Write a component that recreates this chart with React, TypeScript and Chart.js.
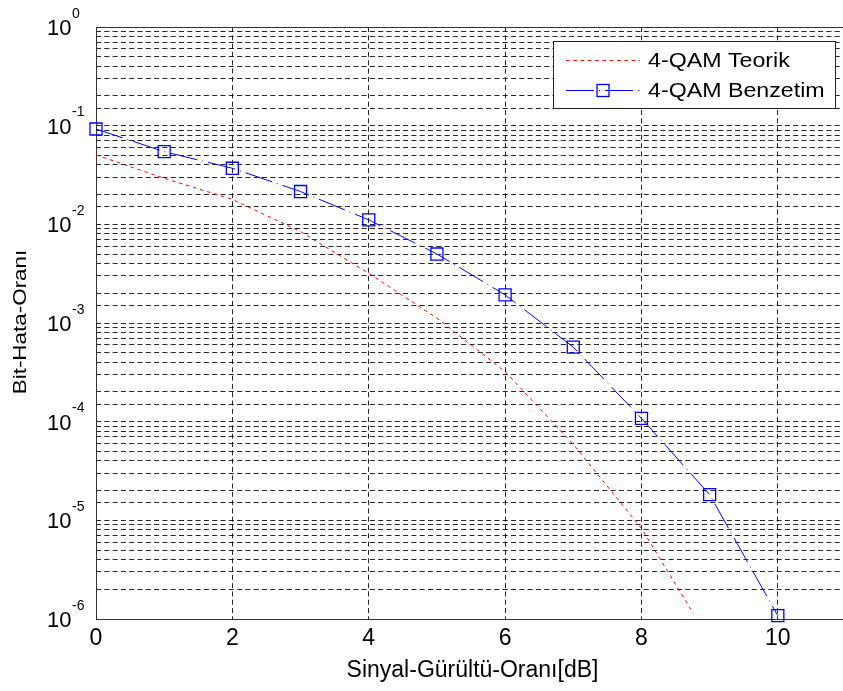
import React, { useEffect, useRef } from 'react';
import { Chart, registerables } from 'chart.js';

Chart.register(...registerables);

// ---- data ----
const simSnrDb = [0, 1, 2, 3, 4, 5, 6, 7, 8, 9, 10];
const simBer = [0.0925, 0.0545, 0.037, 0.0215, 0.0111, 0.005, 0.00193, 0.000569, 0.000108, 0.0000182, 0.00000108];
const theoSnrDb = [0, 1, 2, 3, 4, 5, 6, 7, 8, 8.76];
const theoBer = [0.0505, 0.0293, 0.0179, 0.00843, 0.00319, 0.00112, 0.000321, 0.000059, 0.0000083, 0.00000114];
const xTickValues = [0, 2, 4, 6, 8, 10];
const yTickExponents = [0, -1, -2, -3, -4, -5, -6];
const legendLabels = ['4-QAM Teorik', '4-QAM Benzetim'];
const xTitle = 'Sinyal-Gürültü-Oranı[dB]';
const yTitle = 'Bit-Hata-Oranı';

const FONT = '"Liberation Sans", Arial, sans-serif';
const RED = '#ff0000';
const BLUE = '#0000ff';
const RED_DASH = [3.5, 3.8];
const BLUE_DASH = [28, 5, 1, 5];
const GRID_DASH = [5, 3.3];

const textPlugin = {
  id: 'matlabText',
  beforeDatasetsDraw(chart: any) {
    const { ctx, chartArea } = chart;
    ctx.save();
    ctx.strokeStyle = '#333';
    ctx.lineWidth = 1;
    ctx.setLineDash([]);
    ctx.beginPath();
    const l = Math.round(chartArea.left) + 0.5;
    const t = Math.round(chartArea.top) + 0.5;
    const b = Math.round(chartArea.bottom) + 0.5;
    const r = Math.round(chartArea.right) - 0.5;
    ctx.moveTo(r, t);
    ctx.lineTo(l, t);
    ctx.lineTo(l, b);
    ctx.lineTo(r, b);
    ctx.lineTo(r, t);
    ctx.stroke();
    ctx.restore();
  },
  afterDraw(chart: any) {
    const { ctx, scales } = chart;
    const xs = scales.x;
    const ys = scales.y;
    ctx.save();
    ctx.fillStyle = '#000';
    ctx.textBaseline = 'alphabetic';

    // y tick labels 10^e
    for (const e of yTickExponents) {
      const y = ys.getPixelForValue(Math.pow(10, e));
      ctx.font = `22px ${FONT}`;
      ctx.textAlign = 'left';
      ctx.fillText('10', 39, y + 8);
      const w = ctx.measureText('10').width;
      ctx.font = `14px ${FONT}`;
      ctx.fillText(String(e), 39 + w + 0.5, y - 9.5);
    }

    // x tick labels
    ctx.font = `23px ${FONT}`;
    ctx.textAlign = 'center';
    for (const v of xTickValues) {
      const x = xs.getPixelForValue(v);
      ctx.fillText(String(v), x, 637);
    }

    // x title
    ctx.font = `23px ${FONT}`;
    ctx.textAlign = 'center';
    ctx.fillText(xTitle, 464.5, 669);

    // y title
    ctx.save();
    ctx.translate(18, 314);
    ctx.rotate(-Math.PI / 2);
    ctx.scale(1.18, 1);
    ctx.font = `19px ${FONT}`;
    ctx.textAlign = 'center';
    ctx.fillText(yTitle, 0, 0);
    ctx.restore();

    // legend box
    const bx = 545, by = 33, bw = 282, bh = 67;
    ctx.fillStyle = '#fff';
    ctx.fillRect(bx, by, bw, bh);
    ctx.strokeStyle = '#222';
    ctx.lineWidth = 1;
    ctx.setLineDash([]);
    ctx.strokeRect(bx + 0.5, by + 0.5, bw, bh);

    // legend samples
    ctx.lineWidth = 1;
    ctx.strokeStyle = RED;
    ctx.setLineDash(RED_DASH);
    ctx.beginPath();
    ctx.moveTo(558, 52.5);
    ctx.lineTo(632, 52.5);
    ctx.stroke();

    ctx.strokeStyle = BLUE;
    ctx.setLineDash(BLUE_DASH);
    ctx.beginPath();
    ctx.moveTo(558, 82.5);
    ctx.lineTo(632, 82.5);
    ctx.stroke();
    ctx.setLineDash([]);
    ctx.lineWidth = 1.3;
    ctx.strokeRect(589, 76.5, 12, 12);

    // legend text
    ctx.fillStyle = '#000';
    ctx.textAlign = 'left';
    ctx.font = `20px ${FONT}`;
    const rows = [59.3, 89.3];
    legendLabels.forEach((lab, i) => {
      ctx.save();
      ctx.translate(640, rows[i]);
      ctx.scale(1.16, 1);
      ctx.fillText(lab, 0, 0);
      ctx.restore();
    });
    ctx.restore();
  },
};

export default function App() {
  const canvasRef = useRef<HTMLCanvasElement | null>(null);

  useEffect(() => {
    if (!canvasRef.current) return;
    const chart = new Chart(canvasRef.current, {
      type: 'line',
      data: {
        datasets: [
          {
            label: legendLabels[0],
            data: theoSnrDb.map((x, i) => ({ x, y: theoBer[i] })),
            borderColor: RED,
            borderWidth: 1,
            borderDash: RED_DASH,
            pointRadius: 0,
            fill: false,
            tension: 0,
          },
          {
            label: legendLabels[1],
            data: simSnrDb.map((x, i) => ({ x, y: simBer[i] })),
            borderColor: BLUE,
            borderWidth: 1,
            borderDash: BLUE_DASH,
            pointStyle: 'rect',
            pointRadius: 8.5,
            pointBorderWidth: 1.3,
            pointBorderColor: BLUE,
            pointBackgroundColor: 'rgba(0,0,0,0)',
            fill: false,
            tension: 0,
            clip: false,
          } as any,
        ],
      },
      options: {
        animation: false,
        responsive: true,
        maintainAspectRatio: false,
        events: [],
        layout: { autoPadding: false, padding: { top: 19, left: 0, right: 0, bottom: 0 } },
        plugins: {
          legend: { display: false },
          tooltip: { enabled: false },
          title: { display: false },
        },
        scales: {
          x: {
            type: 'linear',
            min: 0,
            max: 11,
            afterBuildTicks: (scale: any) => {
              scale.ticks = xTickValues.map((v) => ({ value: v }));
            },
            afterFit: (scale: any) => {
              scale.height = 64;
            },
            ticks: { display: false },
            grid: { color: 'rgba(0,0,0,0.85)', lineWidth: 1, drawTicks: false },
            border: { display: false, dash: GRID_DASH },
          },
          y: {
            type: 'logarithmic',
            min: 1e-6,
            max: 1,
            afterFit: (scale: any) => {
              scale.width = 88;
            },
            ticks: { display: false },
            grid: { color: 'rgba(0,0,0,0.85)', lineWidth: 1, drawTicks: false },
            border: { display: false, dash: GRID_DASH },
          },
        },
      } as any,
      plugins: [textPlugin],
    });
    return () => chart.destroy();
  }, []);

  return (
    <div
      style={{
        position: 'absolute',
        left: 8,
        top: 8,
        width: 835,
        height: 675,
        overflow: 'hidden',
        background: '#fff',
      }}
    >
      <div style={{ position: 'relative', width: 838, height: 675 }}>
        <canvas ref={canvasRef} />
      </div>
    </div>
  );
}
